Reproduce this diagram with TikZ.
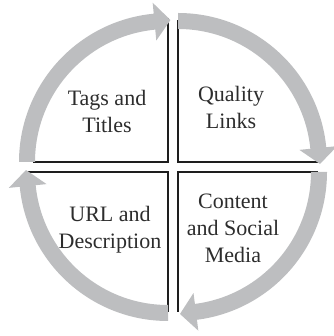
\documentclass[tikz,border=0pt]{standalone}
\usepackage{fontspec}
\setmainfont{Liberation Serif}
\definecolor{arrowgray}{RGB}{189,190,192}
\definecolor{linecol}{RGB}{30,30,30}
\definecolor{txtcol}{RGB}{45,45,45}
\newcommand{\qarrow}[3]{%
  \fill[arrowgray,shift={(#1)}] (#2:133) arc[start angle=#2,end angle=#3,radius=133]
    -- (#3:122) -- ({#3-6.5}:142) -- (#3:160) -- (#3:149)
    arc[start angle=#3,end angle=#2,radius=149] -- cycle;}
\tikzset{
  edge/.style={draw=linecol,line width=2pt},
  label/.style={align=center,inner sep=0pt,text=txtcol,
    font=\fontsize{22}{27}\selectfont}
}
\begin{document}
\begin{tikzpicture}[x=1pt,y=1pt]
\useasboundingbox (0,0) rectangle (333,336);
% quadrant corners
\coordinate (tl) at (168,174);
\coordinate (tr) at (178,174);
\coordinate (bl) at (168,164);
\coordinate (br) at (178,164);
% edge end points
\coordinate (tlv) at (168,318);
\coordinate (tlh) at (33,174);
\coordinate (trv) at (178,316);
\coordinate (trh) at (320,174);
\coordinate (blh) at (28,164);
\coordinate (blv) at (168,24);
\coordinate (brv) at (178,24);
\coordinate (brh) at (318,164);
% black edges
\draw[edge] (tlv) -- (tl) -- (tlh);
\draw[edge] (trv) -- (tr) -- (trh);
\draw[edge] (blh) -- (bl) -- (blv);
\draw[edge] (brv) -- (br) -- (brh);
% gray circular arrows
\qarrow{tl}{180}{95.5}
\qarrow{tr}{90}{5.7}
\qarrow{br}{0}{-82.7}
\qarrow{bl}{270}{185.7}
% labels
\node[label] (tags) at (107,224.5) {Tags and\\Titles};
\node[label] (quality) at (231,228.5) {Quality\\Links};
\node[label] (url) at (110,106.5) {URL and\\Description};
\node[label] (content) at (233,108) {Content\\and Social\\Media};
\end{tikzpicture}
\end{document}
